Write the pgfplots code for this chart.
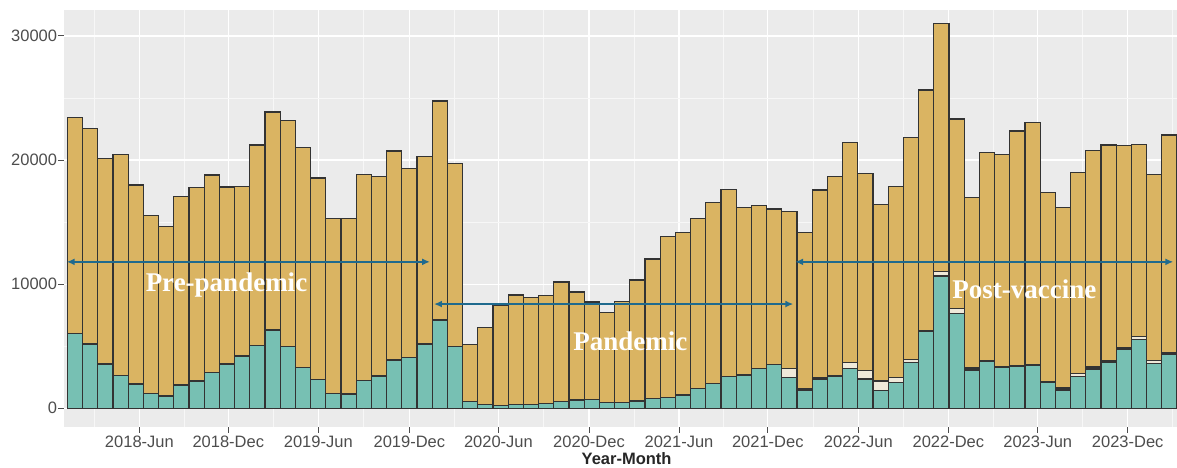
\documentclass[border=0pt]{standalone}
\usepackage{pgfplots}
\pgfplotsset{compat=1.18}
\usepackage{pgfplotstable}
\usepackage{fontspec}
\setmainfont{Liberation Sans}
\newfontfamily\serifbold{Liberation Serif}
\usetikzlibrary{arrows.meta}
\definecolor{goldc}{HTML}{DAB462}
\definecolor{tealc}{HTML}{77C0B3}
\definecolor{creamc}{HTML}{EFE9D9}
\definecolor{arrowc}{HTML}{1F6A8E}
\definecolor{panelbg}{HTML}{EBEBEB}
\definecolor{tickgrey}{HTML}{4D4D4D}

\pgfplotstableread{
x T C G
0 6040 0 17410
1 5180 0 17390
2 3570 0 16550
3 2630 0 17840
4 1960 0 16040
5 1210 0 14320
6 990 0 13680
7 1880 0 15210
8 2200 0 15560
9 2900 0 15900
10 3570 0 14270
11 4210 0 13680
12 5040 0 16180
13 6310 0 17570
14 4960 0 18220
15 3270 0 17770
16 2340 0 16220
17 1210 0 14070
18 1150 0 14130
19 2220 0 16610
20 2600 0 16070
21 3890 0 16840
22 4080 0 15260
23 5180 0 15100
24 7110 0 17650
25 4960 0 14750
26 530 0 4630
27 320 0 6210
28 210 0 8110
29 320 0 8810
30 320 0 8620
31 400 0 8680
32 530 0 9650
33 670 0 8700
34 720 0 7850
35 450 0 7290
36 450 0 8140
37 590 0 9750
38 810 0 11220
39 890 0 12940
40 1070 0 13080
41 1610 0 13670
42 2020 0 14580
43 2550 0 15100
44 2680 0 13490
45 3220 0 13140
46 3550 0 12510
47 2480 700 12660
48 1450 100 12630
49 2360 100 15130
50 2600 0 16060
51 3220 480 17730
52 2360 670 15910
53 1450 750 14240
54 2060 400 15400
55 3710 250 17880
56 6170 100 19380
57 10660 350 20010
58 7650 400 15260
59 3090 150 13760
60 3750 100 16780
61 3300 100 17070
62 3410 50 18890
63 3440 50 19560
64 2100 50 15220
65 1480 150 14540
66 2550 270 16200
67 3170 150 17470
68 3710 100 17410
69 4780 100 16280
70 5560 200 15480
71 3630 200 15030
72 4350 100 17570
}\datatable

\begin{document}
\begin{tikzpicture}
\useasboundingbox (0,0) rectangle (1177bp,468bp);
\begin{axis}[
  at={(64.3bp,41.3bp)}, anchor=south west,
  scale only axis,
  width=1112.7bp, height=416.7bp,
  xmin=-0.70, xmax=72.5,
  ymin=-1483, ymax=32095,
  scaled y ticks=false, scaled x ticks=false,
  ybar stacked, bar width=1,
  axis background/.style={fill=panelbg},
  axis line style={draw=none},
  tick pos=left,
  xtick={4.24,10.09,16.01,22.0,27.86,33.82,39.74,45.58,51.54,57.46,63.34,69.26},
  xticklabels={2018-Jun,2018-Dec,2019-Jun,2019-Dec,2020-Jun,2020-Dec,2021-Jun,2021-Dec,2022-Jun,2022-Dec,2023-Jun,2023-Dec},
  minor xtick={1.28,7.17,13.05,18.99,24.93,30.84,36.78,42.66,48.56,54.5,60.4,66.3,72.21},
  ytick={0,10000,20000,30000},
  yticklabels={0,10000,20000,30000},
  minor ytick={5000,15000,25000},
  grid=both,
  major grid style={white, line width=1.3bp},
  minor grid style={white!60!panelbg, line width=0.7bp},
  tick align=outside,
  major tick length=6bp,
  minor tick length=0pt,
  tick style={tickgrey, line width=1bp},
  ticklabel style={font=\fontsize{16.5bp}{19bp}\selectfont, text=tickgrey},
  yticklabel style={inner sep=0pt, xshift=-1bp},
  xticklabel style={inner sep=0pt, yshift=-3bp},
  xlabel={Year-Month},
  xlabel style={font=\bfseries\fontsize{16.5bp}{19bp}\selectfont, text=black!85, at={(axis description cs:0.5054,0)}, anchor=north, yshift=-26bp, inner sep=0pt},
]
\addplot[fill=tealc, draw=black!80, line width=1.2bp] table[x=x, y=T] {\datatable};
\addplot[fill=creamc, draw=black!80, line width=1.2bp] table[x=x, y=C] {\datatable};
\addplot[fill=goldc, draw=black!80, line width=1.2bp] table[x=x, y=G] {\datatable};

\coordinate (a1) at (axis cs:-0.54,11800);
\coordinate (a2) at (axis cs:23.36,11800);
\coordinate (b1) at (axis cs:23.62,8400);
\coordinate (b2) at (axis cs:47.26,8400);
\coordinate (c1) at (axis cs:47.38,11800);
\coordinate (c2) at (axis cs:72.26,11800);
\coordinate (t1) at (axis cs:9.97,9396);
\coordinate (t2) at (axis cs:36.54,4657);
\coordinate (t3) at (axis cs:62.46,8864);
\end{axis}
\tikzset{arr/.style={arrowc, line width=1.6bp, {Latex[length=8bp,width=7bp]}-{Latex[length=8bp,width=7bp]}},
  ann/.style={anchor=base, text=white, inner sep=0pt, font=\serifbold\bfseries\fontsize{27bp}{30bp}\selectfont}}
\draw[arr] (a1) -- (a2);
\draw[arr] (b1) -- (b2);
\draw[arr] (c1) -- (c2);
\node[ann] at (t1) {Pre-pandemic};
\node[ann] at (t2) {Pandemic};
\node[ann] at (t3) {Post-vaccine};
\end{tikzpicture}
\end{document}
